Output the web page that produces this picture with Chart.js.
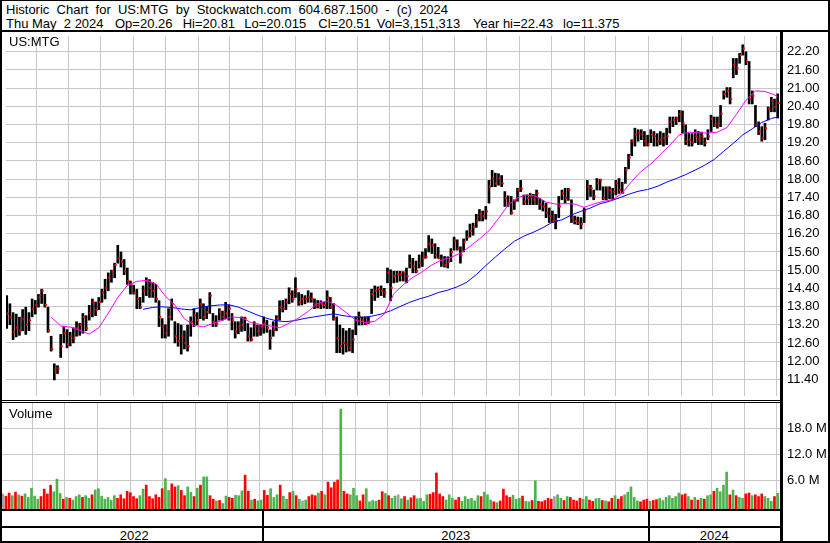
<!DOCTYPE html>
<html>
<head>
<meta charset="utf-8">
<script src="https://cdn.jsdelivr.net/npm/chart.js@4.4.1/dist/chart.umd.min.js"></script>
<style>
html, body { margin: 0; padding: 0; background: #fff; }
#frame { position: relative; width: 830px; height: 543px; overflow: hidden; font-family: "Liberation Sans", Arial, sans-serif; color: #000; }
.ln { position: absolute; background: #000; }
.txt { position: absolute; font-size: 13px; line-height: 15px; white-space: pre; }
.wide { word-spacing: 3.6px; }
canvas { position: absolute; }
</style>
</head>
<body>
<div id="frame">
  <div class="txt wide" style="left:6px;top:2px">Historic Chart for US:MTG by Stockwatch.com 604.687.1500 - (c) 2024</div>
  <div class="txt" style="left:6px;top:15.7px">Thu May  2 2024</div>
  <div class="txt" style="left:115px;top:15.7px">Op=20.26</div>
  <div class="txt" style="left:182.7px;top:15.7px">Hi=20.81</div>
  <div class="txt" style="left:244.3px;top:15.7px">Lo=20.015</div>
  <div class="txt" style="left:318.3px;top:15.7px">Cl=20.51</div>
  <div class="txt" style="left:376.7px;top:15.7px">Vol=3,151,313</div>
  <div class="txt" style="left:473px;top:15.7px">Year hi=22.43</div>
  <div class="txt" style="left:563px;top:15.7px">lo=11.375</div>

  <canvas id="priceChart" width="826" height="368" style="left:2px;top:32px"></canvas>
  <canvas id="volChart" width="826" height="106" style="left:2px;top:403px"></canvas>

  <div class="txt" style="left:9px;top:34px">US:MTG</div>
  <div class="txt" style="left:9px;top:405.7px">Volume</div>

  <div class="ln" style="left:0;top:0;width:830px;height:1px"></div>
  <div class="ln" style="left:0;top:0;width:2px;height:543px"></div>
  <div class="ln" style="left:828px;top:0;width:2px;height:543px"></div>
  <div class="ln" style="left:0;top:541px;width:830px;height:2px"></div>
  <div class="ln" style="left:0;top:30px;width:830px;height:2px"></div>
  <div class="ln" style="left:780px;top:30px;width:3px;height:513px"></div>
  <div class="ln" style="left:0;top:400px;width:780px;height:1px"></div>
  <div class="ln" style="left:0;top:402px;width:780px;height:1px"></div>
  <div class="ln" style="left:0;top:509px;width:780px;height:2px"></div>
  <div class="ln" style="left:0;top:526px;width:780px;height:2px"></div>
  <div id="yearRow"></div>
</div>

<script>
// bars are sampled every 3 calendar days, day 0 = May 1 2022
const firstBarDay = 3;
const barStep = 3;

const hi = [
  14.16, 13.89, 13.60, 13.55, 13.45, 13.70, 13.78, 13.60, 14.05, 14.00,
  14.20, 14.37, 14.20, 13.78, 12.82, 11.91, 11.85, 12.88, 13.14, 13.04,
  12.95, 13.10, 13.30, 13.25, 13.57, 13.50, 13.84, 14.05, 13.95, 14.10,
  14.37, 14.70, 14.91, 15.00, 15.23, 15.82, 15.60, 15.35, 15.07, 14.64,
  14.50, 14.37, 14.10, 14.48, 14.75, 14.69, 14.60, 14.53, 13.99, 13.40,
  13.20, 13.73, 14.05, 13.30, 13.24, 13.19, 13.00, 13.19, 13.46, 13.73,
  13.60, 14.05, 13.89, 13.80, 14.26, 13.57, 13.50, 13.73, 13.65, 13.94,
  13.85, 13.57, 13.30, 13.30, 13.46, 13.45, 13.24, 13.10, 13.30, 13.19,
  13.19, 13.46, 13.35, 13.03, 13.30, 13.50, 13.99, 14.00, 14.05, 14.42,
  14.32, 14.75, 14.26, 14.20, 14.16, 14.32, 14.25, 14.05, 14.00, 13.99,
  13.95, 14.32, 14.10, 13.90, 13.46, 13.19, 13.08, 13.00, 13.08, 13.03,
  13.46, 13.62, 13.46, 13.46, 13.46, 14.37, 14.48, 14.45, 14.48, 14.40,
  15.07, 15.01, 14.96, 14.96, 14.96, 14.95, 15.07, 15.50, 15.39, 15.30,
  15.50, 15.60, 15.71, 16.14, 16.03, 15.87, 15.75, 15.50, 15.45, 15.44,
  15.71, 16.09, 16.00, 15.77, 16.03, 16.30, 16.52, 16.55, 16.84, 17.00,
  16.95, 17.10, 17.96, 18.29, 18.20, 18.18, 18.12, 17.59, 17.45, 17.43,
  17.32, 17.70, 17.96, 17.48, 17.48, 17.53, 17.50, 17.64, 17.37, 17.30,
  17.21, 17.05, 16.95, 16.84, 17.43, 17.64, 17.70, 17.70, 17.32, 16.78,
  16.75, 16.73, 17.05, 17.96, 17.80, 17.64, 18.02, 18.00, 17.75, 17.75,
  17.75, 17.70, 17.96, 18.02, 17.90, 18.39, 18.82, 19.30, 19.68, 19.63,
  19.63, 19.57, 19.45, 19.63, 19.57, 19.50, 19.57, 19.52, 19.68, 20.05,
  20.05, 20.05, 20.27, 20.25, 19.79, 19.52, 19.50, 19.63, 19.57, 19.55,
  19.36, 19.63, 20.11, 20.05, 20.05, 20.43, 20.91, 21.02, 21.02, 21.98,
  21.98, 22.15, 22.43, 22.20, 21.88, 20.91, 20.43, 19.89, 19.73, 19.84,
  20.38, 20.70, 20.64, 20.81
];

const lo = [
  13.08, 13.20, 12.71, 12.80, 12.85, 13.00, 12.88, 13.00, 13.46, 13.55,
  13.78, 13.90, 13.78, 12.95, 12.33, 11.38, 11.59, 12.12, 12.60, 12.44,
  12.50, 12.60, 12.82, 12.85, 12.92, 13.00, 13.35, 13.46, 13.50, 13.70,
  13.94, 14.05, 14.32, 14.60, 14.75, 15.23, 15.10, 14.85, 14.53, 14.21,
  14.21, 13.73, 13.73, 13.94, 14.16, 14.10, 14.10, 13.94, 13.14, 12.76,
  12.76, 12.82, 13.35, 12.60, 12.49, 12.23, 12.40, 12.33, 12.82, 13.14,
  13.20, 13.40, 13.35, 13.40, 13.57, 13.14, 13.14, 13.35, 13.35, 13.40,
  13.35, 13.03, 12.76, 12.90, 12.98, 13.00, 12.66, 12.66, 12.82, 12.82,
  12.85, 12.92, 12.95, 12.39, 12.82, 13.00, 13.35, 13.62, 13.70, 13.89,
  13.94, 14.10, 13.84, 13.85, 13.89, 13.94, 13.94, 13.73, 13.75, 13.73,
  13.75, 13.73, 13.73, 13.35, 12.28, 12.28, 12.23, 12.30, 12.33, 12.28,
  12.87, 13.19, 13.19, 13.20, 13.24, 13.57, 14.00, 14.10, 14.16, 14.10,
  14.58, 13.99, 14.58, 14.60, 14.64, 14.64, 14.58, 15.07, 14.91, 14.91,
  15.07, 15.12, 15.39, 15.60, 15.55, 15.39, 15.39, 15.12, 15.10, 15.07,
  15.28, 15.66, 15.66, 15.23, 15.60, 15.98, 16.09, 16.15, 16.41, 16.62,
  16.62, 16.68, 17.21, 17.75, 17.75, 17.80, 17.75, 17.10, 17.10, 16.84,
  17.00, 17.27, 17.59, 17.16, 17.16, 17.16, 17.16, 17.16, 17.00, 16.95,
  16.73, 16.57, 16.57, 16.36, 16.73, 17.32, 17.21, 17.30, 16.57, 16.52,
  16.50, 16.36, 16.57, 17.32, 17.43, 17.32, 17.64, 17.64, 17.32, 17.32,
  17.35, 17.32, 17.48, 17.53, 17.53, 17.86, 18.34, 18.77, 19.09, 19.25,
  19.30, 19.09, 19.09, 19.20, 19.09, 19.09, 19.14, 19.09, 19.14, 19.52,
  19.73, 19.80, 19.89, 19.52, 19.14, 19.09, 19.09, 19.20, 19.14, 19.14,
  19.09, 19.30, 19.57, 19.73, 19.68, 19.73, 20.64, 20.70, 20.48, 21.34,
  21.45, 21.82, 22.09, 21.77, 20.48, 20.48, 19.73, 19.47, 19.25, 19.30,
  19.95, 20.22, 20.22, 20.015
];

const close = [
  13.57, 13.45, 12.95, 13.10, 13.00, 13.40, 13.20, 13.35, 13.72, 13.85,
  14.10, 14.32, 13.85, 13.01, 12.40, 11.69, 11.76, 12.49, 12.92, 12.55,
  12.82, 12.75, 13.08, 13.20, 13.46, 13.08, 13.59, 13.94, 13.68, 13.95,
  14.26, 14.42, 14.75, 14.96, 15.17, 15.39, 15.28, 14.96, 14.64, 14.53,
  14.26, 14.05, 13.78, 14.32, 14.64, 14.42, 14.32, 14.05, 13.46, 13.14,
  12.92, 13.46, 13.89, 12.82, 12.66, 12.82, 12.60, 12.49, 13.30, 13.51,
  13.35, 13.89, 13.46, 13.62, 14.16, 13.30, 13.24, 13.62, 13.46, 13.57,
  13.73, 13.35, 12.98, 13.14, 13.19, 13.40, 12.82, 12.71, 13.14, 12.98,
  13.14, 13.24, 13.10, 12.76, 13.03, 13.40, 13.78, 13.73, 13.94, 14.21,
  14.05, 14.37, 13.94, 14.05, 14.05, 14.10, 14.05, 13.89, 13.84, 13.89,
  13.85, 14.10, 13.78, 13.40, 12.76, 12.49, 12.60, 12.55, 12.44, 12.71,
  13.35, 13.46, 13.35, 13.24, 13.30, 14.21, 14.32, 14.37, 14.32, 14.26,
  14.91, 14.42, 14.80, 14.85, 14.85, 14.91, 14.80, 15.23, 15.12, 14.96,
  15.23, 15.39, 15.44, 15.87, 15.82, 15.49, 15.39, 15.33, 15.17, 15.28,
  15.60, 15.98, 15.71, 15.49, 15.93, 16.09, 16.30, 16.41, 16.62, 16.84,
  16.78, 16.94, 17.75, 18.02, 17.86, 18.02, 17.86, 17.37, 17.21, 16.89,
  17.27, 17.64, 17.69, 17.26, 17.37, 17.43, 17.32, 17.53, 17.16, 17.10,
  16.89, 16.78, 16.62, 16.62, 17.10, 17.53, 17.37, 17.64, 16.73, 16.62,
  16.57, 16.52, 16.94, 17.75, 17.70, 17.43, 17.86, 17.96, 17.37, 17.70,
  17.64, 17.59, 17.86, 17.64, 17.55, 18.29, 18.71, 19.25, 19.47, 19.52,
  19.47, 19.25, 19.14, 19.47, 19.41, 19.25, 19.30, 19.36, 19.41, 19.89,
  19.95, 20.00, 20.16, 19.84, 19.25, 19.30, 19.20, 19.41, 19.30, 19.41,
  19.20, 19.41, 20.00, 19.79, 19.84, 20.16, 20.80, 20.91, 20.64, 21.77,
  21.66, 22.09, 22.31, 21.88, 20.64, 20.75, 19.79, 19.57, 19.36, 19.68,
  20.32, 20.59, 20.38, 20.51
];

// volume in millions
const vol = [
  3.0, 2.5, 3.2, 2.6, 3.4, 2.8, 2.5, 3.0, 2.2, 4.3,
  2.5, 1.8, 2.4, 4.1, 3.0, 5.0, 3.5, 6.4, 3.1, 1.8,
  2.2, 2.0, 1.6, 2.4, 2.8, 2.2, 2.6, 2.0, 2.8, 3.9,
  4.2, 2.5, 1.8, 2.2, 1.6, 2.6, 2.0, 2.8, 1.9, 3.6,
  3.3, 2.4, 1.9, 2.6, 4.1, 5.0, 2.4, 1.9, 2.8, 2.2,
  4.2, 6.5, 3.8, 5.3, 4.6, 4.9, 3.8, 2.6, 4.6, 3.4,
  2.4, 4.3, 5.0, 6.9, 6.9, 2.6, 1.8, 1.4, 1.5, 0.8,
  2.5, 2.2, 2.0, 2.7, 2.6, 3.7, 7.3, 3.6, 1.6, 1.8,
  1.4, 1.6, 3.8, 2.7, 4.2, 2.2, 2.8, 5.0, 2.5, 1.8,
  3.3, 3.6, 2.6, 1.8, 1.4, 1.6, 2.4, 2.8, 2.6, 3.2,
  3.6, 2.8, 5.7, 4.4, 5.7, 6.2, 22.4, 3.6, 3.0, 2.8,
  4.3, 2.6, 1.4, 2.8, 4.2, 1.2, 1.5, 1.3, 1.6, 3.5,
  3.1, 2.6, 2.0, 2.5, 2.8, 1.9, 2.4, 1.6, 2.1, 2.6,
  1.9, 2.0, 1.3, 2.8, 2.9, 3.3, 7.8, 3.0, 2.4, 1.6,
  2.8, 2.0, 1.6, 2.2, 1.3, 2.4, 1.8, 2.0, 1.4, 2.6,
  2.4, 3.4, 2.8, 1.6, 1.2, 1.0, 1.4, 4.1, 2.6, 2.2,
  2.7, 1.8, 2.0, 2.5, 1.3, 1.2, 1.5, 6.0, 1.3, 1.2,
  1.5, 2.0, 1.8, 2.4, 2.8, 2.0, 1.5, 2.4, 2.2, 1.6,
  1.4, 2.0, 1.8, 2.4, 1.6, 1.3, 1.9, 2.0, 1.5, 1.4,
  1.2, 2.0, 2.6, 1.8, 2.4, 2.8, 3.4, 4.6, 2.2, 1.4,
  1.2, 1.6, 1.8, 1.3, 1.5, 1.7, 2.0, 1.5, 2.2, 2.6,
  2.0, 2.4, 3.2, 2.8, 3.0, 2.4, 1.6, 2.2, 1.6, 2.0,
  1.8, 2.6, 2.8, 3.6, 4.3, 3.5, 5.0, 8.0, 2.8, 3.9,
  2.6, 2.2, 2.0, 3.0, 3.2, 2.6, 2.8, 2.4, 3.0, 2.4,
  2.0, 1.3, 2.4, 3.15
];

// moving averages, one value every 3 bars
const fastMaStart = 14;
const fastMa = [
  13.45, 13.16, 13.12, 13.02, 12.89, 13.10, 13.58, 14.10, 14.49, 14.63,
  14.66, 14.55, 14.14, 13.85, 13.40, 13.18, 13.13, 13.24, 13.35, 13.46,
  13.43, 13.27, 13.21, 13.16, 13.10, 13.25, 13.42, 13.64, 13.90, 13.98,
  13.84, 13.60, 13.35, 13.27, 13.31, 13.55, 14.22, 14.52, 14.76, 14.95,
  15.17, 15.33, 15.42, 15.56, 15.78, 16.03, 16.30, 16.70, 17.14, 17.39,
  17.48, 17.43, 17.24, 17.18, 17.19, 17.18, 17.07, 17.18, 17.27, 17.32,
  17.54, 17.93, 18.26, 18.50, 18.81, 19.12, 19.46, 19.55, 19.53, 19.52,
  19.55, 19.70, 20.14, 20.60, 20.91, 20.89, 20.78, 20.72
];
const slowMaStart = 43;
const slowMa = [
  13.71, 13.77, 13.79, 13.77, 13.72, 13.69, 13.77, 13.82, 13.85, 13.86,
  13.78, 13.65, 13.52, 13.41, 13.33, 13.30, 13.34, 13.41, 13.46, 13.51,
  13.56, 13.50, 13.46, 13.44, 13.48, 13.55, 13.66, 13.80, 13.94, 14.05,
  14.14, 14.26, 14.34, 14.45, 14.60, 14.85, 15.15, 15.43, 15.70, 15.95,
  16.12, 16.25, 16.40, 16.58, 16.66, 16.82, 16.94, 17.05, 17.19, 17.27,
  17.38, 17.50, 17.60, 17.66, 17.76, 17.90, 18.02, 18.15, 18.30, 18.46,
  18.65, 18.92, 19.18, 19.46, 19.66, 19.87, 20.00, 20.05
];
const maStep = 3;

// first day of each month (days since May 1 2022)
const monthDays = [31, 61, 92, 123, 153, 184, 214, 245, 276, 304, 335, 365,
                   396, 426, 457, 488, 518, 549, 579, 610, 641, 670, 701, 731];
const yearLabels = ['2022', '2023', '2024'];
const yearStartDays = [245, 610];

const priceTicks = [11.4, 12.0, 12.6, 13.2, 13.8, 14.4, 15.0, 15.6, 16.2, 16.8,
                    17.4, 18.0, 18.6, 19.2, 19.8, 20.4, 21.0, 21.6, 22.2];
const volTicks = [6, 12, 18];

const xMin = 2.3, xMax = 734.2;
const priceMin = 10.85, priceMax = 22.72;
const volMin = -0.45, volMax = 23.8;
const gridColor = '#c8c8c8';

Chart.defaults.font.family = '"Liberation Sans", Arial, sans-serif';
Chart.defaults.font.size = 13;
Chart.defaults.color = '#000';

const barDays = close.map((_, i) => firstBarDay + i * barStep);

function maPoints(values, start) {
  return values.map((v, k) => {
    const i = Math.min(start + k * maStep, close.length - 1);
    return { x: barDays[i], y: v };
  });
}

function xAxis() {
  return {
    type: 'linear', min: xMin, max: xMax, offset: false,
    afterBuildTicks: s => { s.ticks = monthDays.map(v => ({ value: v })); },
    ticks: { display: false },
    grid: { color: gridColor, drawTicks: false, offset: false },
    border: { display: false }
  };
}

function yAxis(min, max, tickValues, fmt) {
  return {
    position: 'right', min: min, max: max,
    afterBuildTicks: s => { s.ticks = tickValues.map(v => ({ value: v })); },
    afterFit: s => { s.width = 48; s.paddingTop = 0; s.paddingBottom = 0; },
    ticks: { padding: 7, autoSkip: false, callback: fmt },
    grid: { color: gridColor, drawTicks: false },
    border: { display: false }
  };
}

const baseOptions = {
  responsive: false,
  animation: false,
  events: [],
  layout: { padding: 0 },
  plugins: { legend: { display: false }, tooltip: { enabled: false } }
};

const priceChart = new Chart(document.getElementById('priceChart'), {
  type: 'bar',
  data: {
    datasets: [
      {
        type: 'line', data: maPoints(fastMa, fastMaStart),
        borderColor: '#ff00ff', borderWidth: 1, pointRadius: 0, fill: false
      },
      {
        type: 'line', data: maPoints(slowMa, slowMaStart),
        borderColor: '#0000ff', borderWidth: 1, pointRadius: 0, fill: false
      },
      {
        type: 'line', showLine: false,
        data: barDays.map((d, i) => ({ x: d + 1, y: close[i] })),
        pointStyle: 'rect', pointRadius: 1.45, pointBorderWidth: 0,
        pointBackgroundColor: '#ff0000'
      },
      {
        type: 'bar',
        data: barDays.map((d, i) => ({ x: d, y: [lo[i], hi[i]] })),
        backgroundColor: '#000', barThickness: 2
      }
    ]
  },
  options: Object.assign({}, baseOptions, {
    scales: {
      x: xAxis(),
      y: yAxis(priceMin, priceMax, priceTicks, v => v.toFixed(2))
    }
  })
});

const volColors = close.map((c, i) => {
  if (i === 0 || c === close[i - 1]) return '#a0a0a0';
  return c > close[i - 1] ? '#4db34d' : '#ff0000';
});

new Chart(document.getElementById('volChart'), {
  type: 'bar',
  data: {
    datasets: [{
      data: barDays.map((d, i) => ({ x: d, y: vol[i] })),
      backgroundColor: volColors, barThickness: 2, base: volMin
    }]
  },
  options: Object.assign({}, baseOptions, {
    scales: {
      x: xAxis(),
      y: yAxis(volMin, volMax, volTicks, v => v.toFixed(1) + ' M')
    }
  })
});

// year row under the volume panel, placed from the price chart's x scale
const xs = priceChart.scales.x;
const area = priceChart.chartArea;
const offsetLeft = 2;
const edges = [area.left].concat(yearStartDays.map(d => xs.getPixelForValue(d)), [area.right])
  .map(p => p + offsetLeft);
const row = document.getElementById('yearRow');
yearStartDays.forEach((d, k) => {
  const sep = document.createElement('div');
  sep.className = 'ln';
  sep.style.cssText = `left:${Math.round(edges[k + 1]) - 1}px;top:509px;width:2px;height:33px`;
  row.appendChild(sep);
});
yearLabels.forEach((label, k) => {
  const t = document.createElement('div');
  t.className = 'txt';
  t.textContent = label;
  t.style.cssText = `left:${edges[k]}px;width:${edges[k + 1] - edges[k]}px;top:528px;text-align:center`;
  row.appendChild(t);
});
</script>
</body>
</html>
